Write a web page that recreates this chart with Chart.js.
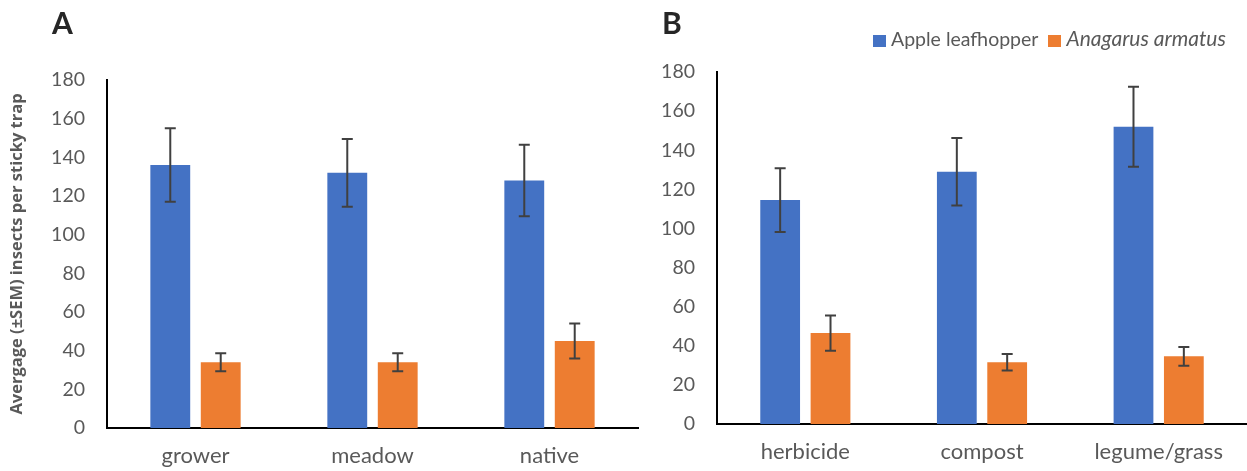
<!DOCTYPE html>
<html>
<head>
<meta charset="utf-8">
<script src="https://cdn.jsdelivr.net/npm/chart.js@4/dist/chart.umd.min.js"></script>
<style>
  html, body { margin: 0; padding: 0; background: #ffffff; }
  body { width: 1247px; height: 471px; position: relative; overflow: hidden; font-family: Lato, "Open Sans", sans-serif; }
  .panel { position: absolute; top: 0; height: 471px; }
  #wrapA { left: 0; width: 640px; }
  #wrapB { left: 640px; width: 607px; }
  .letter { position: absolute; top: 4px; font: bold 30px Lato, sans-serif; color: #262626; }
  #legend { position: absolute; left: 873px; top: 25px; font: 19.5px Lato, sans-serif; color: #595959; white-space: nowrap; }
  #legend i { font-size: 21px; }
  #legend span.sw { display: inline-block; width: 13px; height: 12px; vertical-align: -1px; margin-right: 5px; }
  #legend span.item { margin-right: 10px; }
</style>
</head>
<body>
<div class="panel" id="wrapA"><canvas id="chartA" width="640" height="471"></canvas></div>
<div class="panel" id="wrapB"><canvas id="chartB" width="607" height="471"></canvas></div>
<div class="letter" style="left:52px">A</div>
<div class="letter" style="left:662px">B</div>
<div id="legend"><span class="item"><span class="sw" style="background:#4472C4"></span>Apple leafhopper</span><span class="sw" style="background:#ED7D31"></span><i>Anagarus armatus</i></div>
<script>
// Habitat treatments (panel A) and ground-cover treatments (panel B)
const categoriesA = ['grower', 'meadow', 'native'];
const categoriesB = ['herbicide', 'compost', 'legume/grass'];

// Mean insects per sticky trap and the standard error of each mean
const leafhopperA = [136, 132, 128];
const leafhopperSemA = [19, 17.5, 18.5];
const anagrusA = [34, 34, 45];
const anagrusSemA = [4.7, 4.6, 9];

const leafhopperB = [114.5, 129, 152];
const leafhopperSemB = [16.3, 17.3, 20.5];
const anagrusB = [46.5, 31.6, 34.6];
const anagrusSemB = [9, 4.2, 4.8];

const seriesNames = ['Apple leafhopper', 'Anagarus armatus'];
const yMin = 0, yMax = 180, yStep = 20;
const yTitle = 'Avergage (±SEM) insects per sticky trap';

const BLUE = '#4472C4', ORANGE = '#ED7D31', TEXT = '#595959';

// Draws ±SEM whiskers with caps on top of every bar
const errorBars = {
  id: 'errorBars',
  afterDatasetsDraw(chart) {
    const ctx = chart.ctx;
    const y = chart.scales.y;
    ctx.save();
    ctx.strokeStyle = '#404040';
    ctx.lineWidth = 2;
    chart.data.datasets.forEach((ds, di) => {
      const meta = chart.getDatasetMeta(di);
      meta.data.forEach((bar, i) => {
        const v = ds.data[i], e = ds.sem[i];
        const top = y.getPixelForValue(v + e);
        const bot = y.getPixelForValue(v - e);
        const x = bar.x, cap = 5.5;
        ctx.beginPath();
        ctx.moveTo(x, top); ctx.lineTo(x, bot);
        ctx.moveTo(x - cap, top); ctx.lineTo(x + cap, top);
        ctx.moveTo(x - cap, bot); ctx.lineTo(x + cap, bot);
        ctx.stroke();
      });
    });
    ctx.restore();
  }
};

function makeChart(id, labels, blue, blueSem, orange, orangeSem, opts) {
  return new Chart(document.getElementById(id), {
    type: 'bar',
    data: {
      labels: labels,
      datasets: [
        { label: seriesNames[0], data: blue, sem: blueSem, backgroundColor: BLUE },
        { label: seriesNames[1], data: orange, sem: orangeSem, backgroundColor: ORANGE }
      ]
    },
    options: {
      responsive: false,
      animation: false,
      events: [],
      categoryPercentage: 0.57,
      barPercentage: 0.79,
      layout: { padding: { top: opts.top, left: 0, right: opts.right, bottom: 0 } },
      plugins: { legend: { display: false }, tooltip: { enabled: false } },
      scales: {
        x: {
          grid: { display: false, drawTicks: false },
          border: { display: true, color: '#000000', width: 2 },
          ticks: { color: TEXT, font: { family: 'Lato', size: 22 }, padding: 15, maxRotation: 0 },
          afterFit(scale) { scale.height = opts.xHeight; }
        },
        y: {
          min: yMin, max: yMax,
          grid: { display: false, drawTicks: false },
          border: { display: true, color: '#000000', width: 2 },
          ticks: { stepSize: yStep, color: TEXT, font: { family: 'Lato', size: 19.5 }, padding: 22 },
          title: opts.title ? {
            display: true, text: opts.title, color: TEXT,
            font: { family: 'Open Sans', size: 16.5, weight: 'bold' },
            padding: { top: 7, bottom: 0 }
          } : { display: false },
          afterFit(scale) { scale.width = opts.yWidth; }
        }
      }
    },
    plugins: [errorBars]
  });
}

makeChart('chartA', categoriesA, leafhopperA, leafhopperSemA, anagrusA, anagrusSemA,
  { top: 80, right: 2, xHeight: 43, yWidth: 107, title: yTitle });
makeChart('chartB', categoriesB, leafhopperB, leafhopperSemB, anagrusB, anagrusSemB,
  { top: 72, right: 0, xHeight: 47, yWidth: 77, title: null });
</script>
</body>
</html>
